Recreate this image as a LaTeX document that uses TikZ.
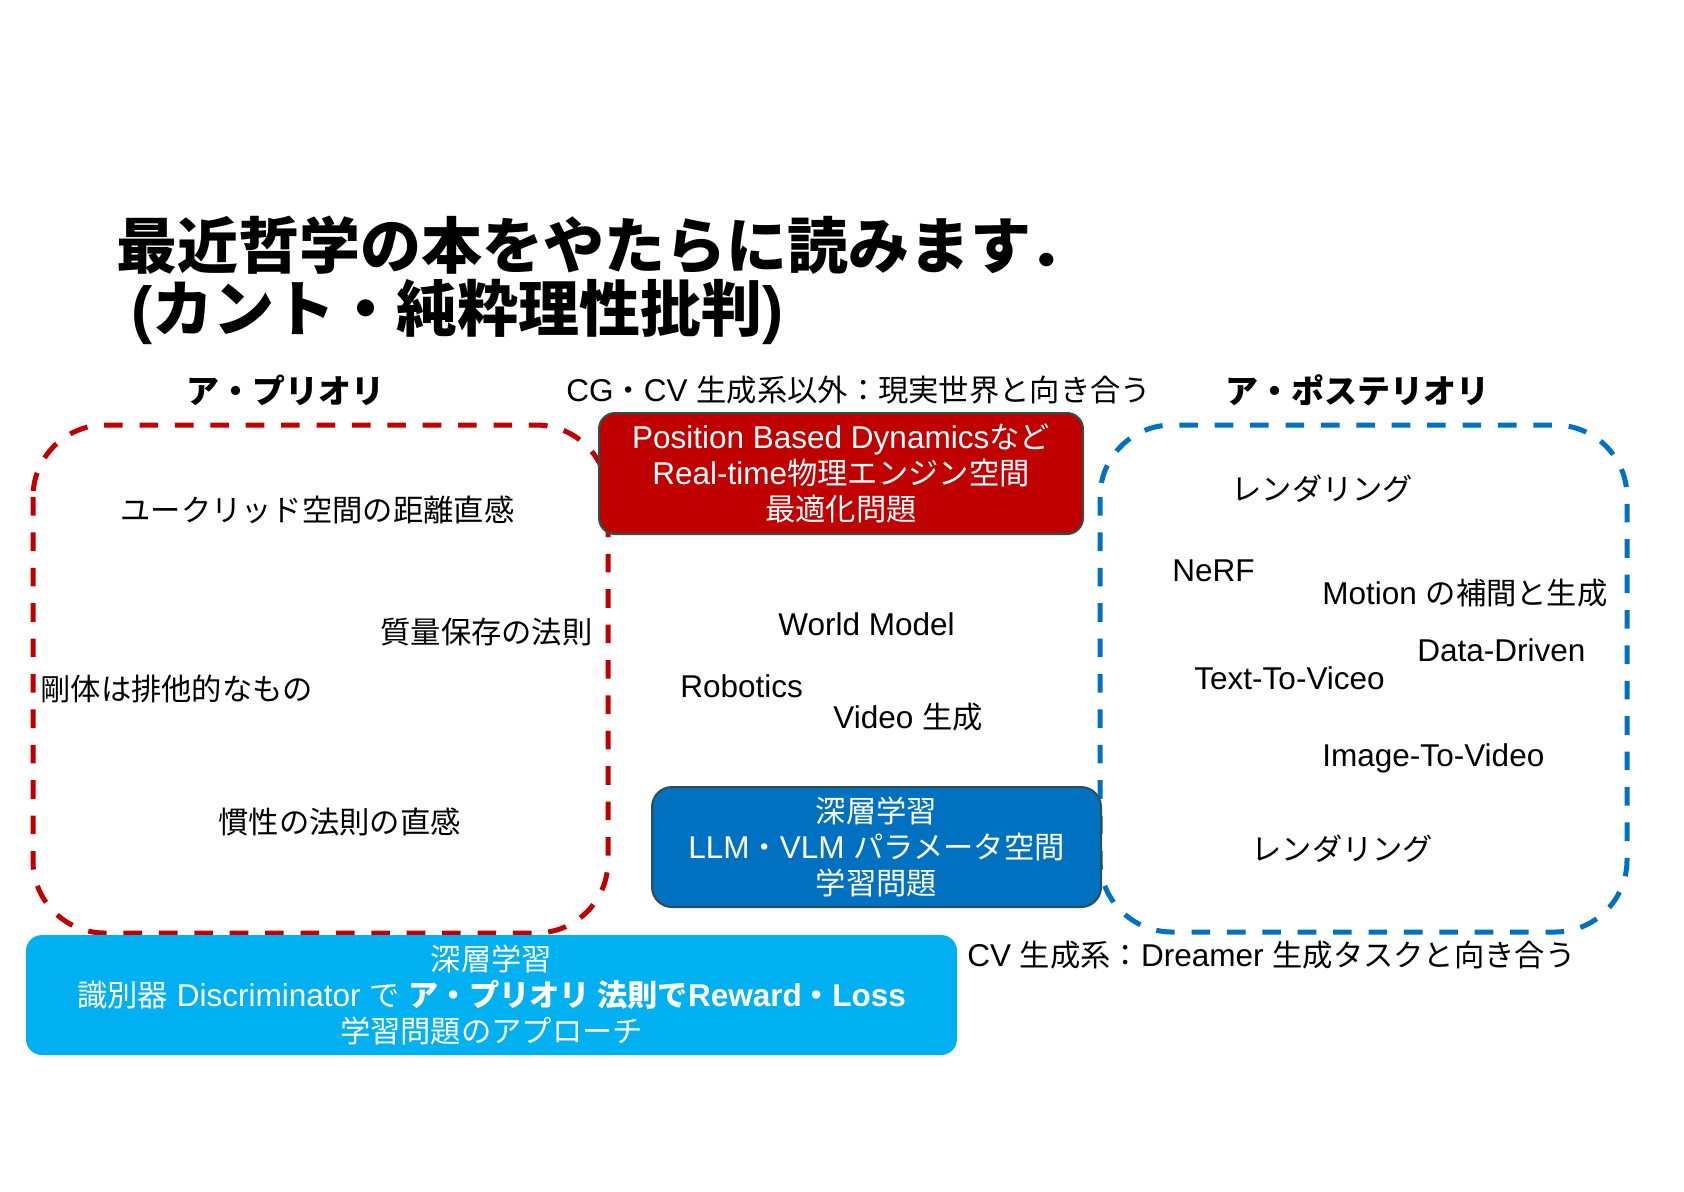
\documentclass[tikz,border=0pt]{standalone}
\usepackage{fontspec}
\setmainfont{Liberation Sans}[Scale=1.04]
\newfontfamily\jp{Noto Sans CJK JP}
\newcommand\J[1]{{\jp #1}}
\definecolor{dred}{HTML}{C00000}
\definecolor{dblue}{HTML}{0070C0}
\definecolor{lblue}{HTML}{00B0F0}
\definecolor{edge}{HTML}{2F4F4F}
\tikzset{
  body/.style={font=\fontsize{15.15pt}{18pt}\selectfont, inner sep=0pt, anchor=base west, text=black},
  head/.style={font=\fontsize{16.5pt}{19pt}\selectfont\bfseries, inner sep=0pt, anchor=base},
  titletxt/.style={font=\fontsize{30.5pt}{32pt}\selectfont\bfseries, inner sep=0pt, anchor=base west},
  dashbox/.style={line width=2.5pt, dash pattern=on 9.3pt off 8.4pt, rounded corners=36pt},
  fillbox/.style={rounded corners=8pt, inner sep=0pt, align=center, text=white,
    font=\fontsize{15.15pt}{18pt}\selectfont},
}
\begin{document}
\begin{tikzpicture}[x=0.5pt, y=-0.5pt]
\useasboundingbox[fill=white] (0,0) rectangle (1684,1191);
% title
\node[titletxt] (t1) at (116,268) {\J{最近哲学の本をやたらに読みます．}};
\node[titletxt] (t2) at (131,331) {(\J{カント・純粋理性批判})};
% headings
\node[head] (apri) at (285,403) {\J{ア・プリオリ}};
\node[head] (apost) at (1357,403) {\J{ア・ポステリオリ}};
\node[body] (cg) at (566,401) {CG\J{・}CV \J{生成系以外：現実世界と向き合う}};
\node[body] (cv) at (967,966) {CV \J{生成系：}Dreamer \J{生成タスクと向き合う}};
% dashed regions
\draw[dashbox, dred] (33,425) rectangle (608,933);
\draw[dashbox, dblue] (1100,425) rectangle (1627,932);
% a priori contents
\node[body] (euc) at (120,521) {\J{ユークリッド空間の距離直感}};
\node[body] (mass) at (380,643) {\J{質量保存の法則}};
\node[body] (rigid) at (40,700) {\J{剛体は排他的なもの}};
\node[body] (iner) at (218,833) {\J{慣性の法則の直感}};
% middle
\node[body] (wm) at (778,635) {World Model};
\node[body] (rob) at (680,697) {Robotics};
\node[body] (vid) at (833,728) {Video \J{生成}};
% a posteriori contents
\node[body] (ren1) at (1231,500) {\J{レンダリング}};
\node[body] (nerf) at (1172,581) {NeRF};
\node[body] (mot) at (1322,604) {Motion \J{の補間と生成}};
\node[body] (dd) at (1417,661) {Data-Driven};
\node[body] (t2v) at (1194,689) {Text-To-Viceo};
\node[body] (i2v) at (1322,766) {Image-To-Video};
\node[body] (ren2) at (1251,860) {\J{レンダリング}};
% filled boxes
\node[fillbox, fill=dred, draw=edge, line width=1pt, minimum width=242pt, minimum height=60.5pt] (pbd) at (841,473.5)
  {Position Based Dynamics\J{など}\\Real-time\J{物理エンジン空間}\\\J{最適化問題}};
\node[fillbox, fill=dblue, draw=edge, line width=1pt, rounded corners=10pt, minimum width=224.5pt, minimum height=60pt] (llm) at (876.5,847)
  {\J{深層学習}\\LLM\J{・}VLM \J{パラメータ空間}\\\J{学習問題}};
\node[fillbox, fill=lblue, minimum width=465.5pt, minimum height=60pt] (disc) at (491.5,995)
  {\J{深層学習}\\\J{識別器} Discriminator \J{で} {\bfseries\J{ア・プリオリ 法則で}Reward\J{・}Loss}\\\J{学習問題のアプローチ}};
\end{tikzpicture}
\end{document}
